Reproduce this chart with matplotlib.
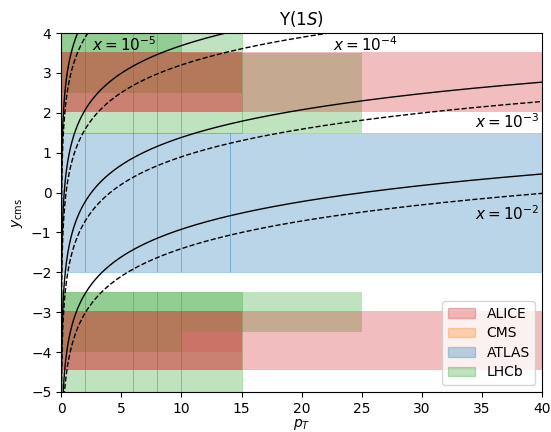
import numpy as np
import matplotlib
matplotlib.use("Agg")
import matplotlib.pyplot as plt
from matplotlib.patches import Rectangle, Patch

# Kinematic coverage (pT ranges and rapidity ranges) per experiment
lhcb_pt_edges = [0, 2, 6, 8, 10, 15]
lhcb_y_bins = [(1.5, 4.0), (-5.0, -2.5)]
lhcb_extra_pt = [(15, 25), (0, 10), (0, 15), (0, 25), (0, 10)]
lhcb_extra_y = [(1.5, 3.5), (3.5, 4.0), (2.5, 3.5), (-3.5, -2.5), (-4.0, -3.5)]

atlas_pt_edges = [0, 2, 6, 8, 10, 14, 40]
atlas_y = (-2.0, 1.5)

alice_pt = [(0, 40), (0, 15), (0, 40), (0, 15)]
alice_y = [(2.03, 3.53), (2.03, 3.53), (-4.46, -2.96), (-4.46, -2.96)]
alice_bin_pt = (10, 15)
alice_bin_y = (-4.0, -3.5)

# Bjorken-x iso-lines, sqrt(s) in GeV: solid 5.02 TeV, dashed 8.16 TeV
x_values = [1e-5, 1e-4, 1e-3, 1e-2]
sqrt_s = [5020., 8160.]
styles = ['-', '--']

colors = {'ALICE': 'tab:red', 'CMS': 'tab:orange', 'ATLAS': 'tab:blue', 'LHCb': 'tab:green'}


def box(ax, pt, y, c, lw=0.6, alpha=0.3):
    ax.add_patch(Rectangle((pt[0], y[0]), pt[1] - pt[0], y[1] - y[0],
                           facecolor=c, edgecolor=c if lw else 'none',
                           alpha=alpha, lw=lw))


fig = plt.figure(figsize=(5.51, 4.32), dpi=100)
ax = fig.add_axes([0.111, 0.0926, 0.873, 0.831])

# LHCb
for y in lhcb_y_bins:
    for lo, hi in zip(lhcb_pt_edges[:-1], lhcb_pt_edges[1:]):
        box(ax, (lo, hi), y, colors['LHCb'])
for pt, y in zip(lhcb_extra_pt, lhcb_extra_y):
    box(ax, pt, y, colors['LHCb'], lw=0)

# ATLAS
for lo, hi in zip(atlas_pt_edges[:-1], atlas_pt_edges[1:]):
    box(ax, (lo, hi), atlas_y, colors['ATLAS'])

# ALICE
for pt, y in zip(alice_pt, alice_y):
    box(ax, pt, y, colors['ALICE'], lw=0)
box(ax, alice_bin_pt, alice_bin_y, colors['ALICE'], lw=0, alpha=0.15)

# x lines
pt = np.linspace(0.005, 40, 4000)
for s, ls in zip(sqrt_s, styles):
    for xv in x_values:
        ax.plot(pt, np.log(2 * pt / (xv * s)), color='k', ls=ls, lw=1)

ax.text(2.6, 3.72, r'$x = 10^{-5}$', fontsize=11, va='center')
ax.text(22.6, 3.72, r'$x = 10^{-4}$', fontsize=11, va='center')
ax.text(39.8, 1.78, r'$x = 10^{-3}$', fontsize=11, va='center', ha='right')
ax.text(39.8, -0.52, r'$x = 10^{-2}$', fontsize=11, va='center', ha='right')

handles = [Patch(facecolor=colors[k], edgecolor=colors[k], alpha=0.3, label=k)
           for k in ['ALICE', 'CMS', 'ATLAS', 'LHCb']]
ax.legend(handles=handles, loc='lower right', labelspacing=0.4)

ax.set_xlim(0, 40)
ax.set_ylim(-5, 4)
ax.set_xticks(np.arange(0, 41, 5))
ax.set_yticks(np.arange(-5, 5, 1))
ax.set_xlabel(r'$p_T$', labelpad=1)
ax.set_ylabel(r'$y_{\rm cms}$')
ax.set_title(r'$\Upsilon(1S)$')

fig.savefig('out.png', dpi=100)
